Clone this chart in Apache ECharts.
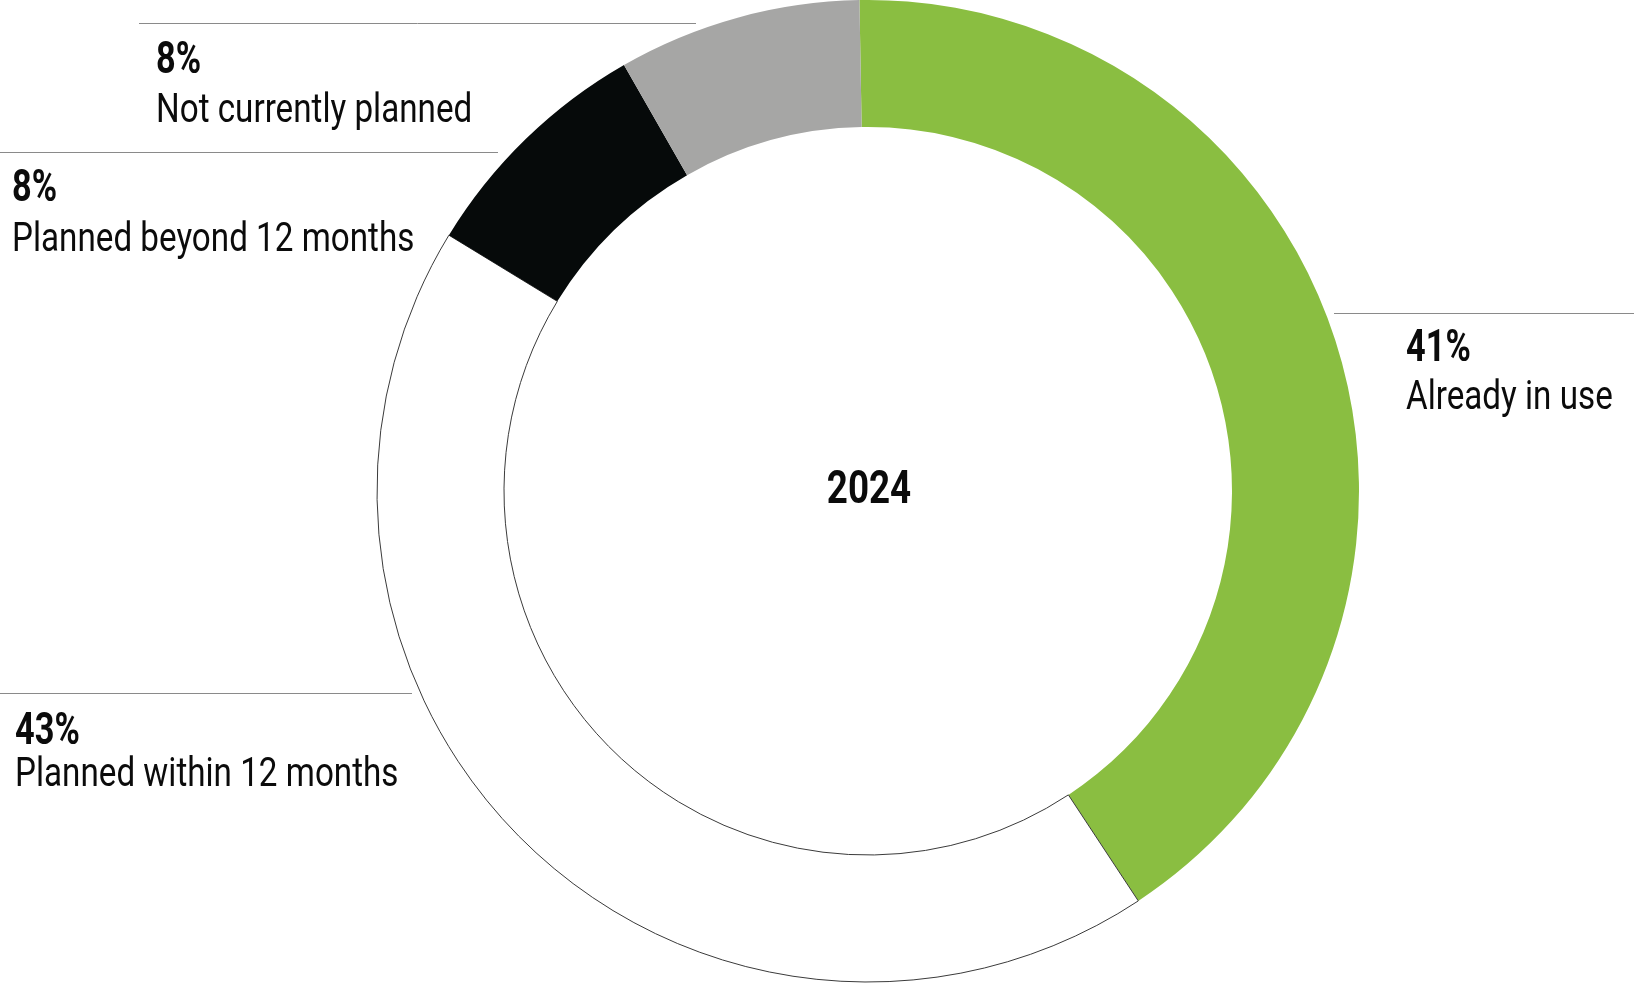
<!DOCTYPE html>
<html>
<head>
<meta charset="utf-8">
<title>2024</title>
<script src="https://cdn.jsdelivr.net/npm/echarts@6/dist/echarts.min.js"></script>
<style>
  html, body { margin: 0; padding: 0; background: #fff; }
  #chart { width: 1634px; height: 985px; }
</style>
</head>
<body>
<div id="chart"></div>
<script>
// data
const categories = ["Already in use", "Planned within 12 months", "Planned beyond 12 months", "Not currently planned"];
const shares = [41, 43, 8, 8];
const yearLabel = "2024";

// look
const colors = ["#8abe41", "#ffffff", "#060a0a", "#a6a6a5"];
const FONT = "Roboto, 'Noto Sans', sans-serif";
const SQUEEZE = 0.81; // the original face is condensed
const SQUEEZE_BOLD = 0.78;

// where each callout sits: separator line + text block
const callouts = [
  { line: [1334, 1634, 313], x: 1406, yPct: 350, yName: 399 },
  { line: [0, 412, 693], x: 15, yPct: 733, yName: 776 },
  { line: [0, 498, 152], x: 12, yPct: 190, yName: 241 },
  { line: [139, 696, 23], x: 156, yPct: 62, yName: 112 },
];

const chart = echarts.init(document.getElementById("chart"));

const graphics = [];
callouts.forEach((c, i) => {
  graphics.push({
    type: "line",
    shape: { x1: c.line[0], y1: c.line[2] + 0.5, x2: c.line[1], y2: c.line[2] + 0.5 },
    style: { stroke: "#8a8a8a", lineWidth: 1 },
    silent: true,
  });
  graphics.push({
    type: "text",
    x: c.x, y: c.yPct, scaleX: SQUEEZE_BOLD,
    style: { text: shares[i] + "%", font: "bold 44px " + FONT, fill: "#0b0b0b", verticalAlign: "middle", align: "left" },
    silent: true,
  });
  graphics.push({
    type: "text",
    x: c.x, y: c.yName, scaleX: SQUEEZE,
    style: { text: categories[i], font: "41px " + FONT, fill: "#0b0b0b", verticalAlign: "middle", align: "left" },
    silent: true,
  });
});
graphics.push({
  type: "text",
  x: 869, y: 491, scaleX: 0.8,
  style: { text: yearLabel, font: "bold 46px " + FONT, fill: "#0b0b0b", verticalAlign: "middle", align: "center" },
  silent: true,
});

chart.setOption({
  animation: false,
  graphic: graphics,
  series: [
    {
      type: "pie",
      center: [868, 491],
      radius: [364, 491],
      startAngle: 91,
      clockwise: true,
      silent: true,
      label: { show: false },
      labelLine: { show: false },
      data: categories.map((name, i) => ({
        name,
        value: shares[i],
        itemStyle: i === 1
          ? { color: colors[i], borderColor: "#3a3a3a", borderWidth: 1 }
          : { color: colors[i], borderWidth: 0 },
      })),
    },
  ],
});
</script>
</body>
</html>
